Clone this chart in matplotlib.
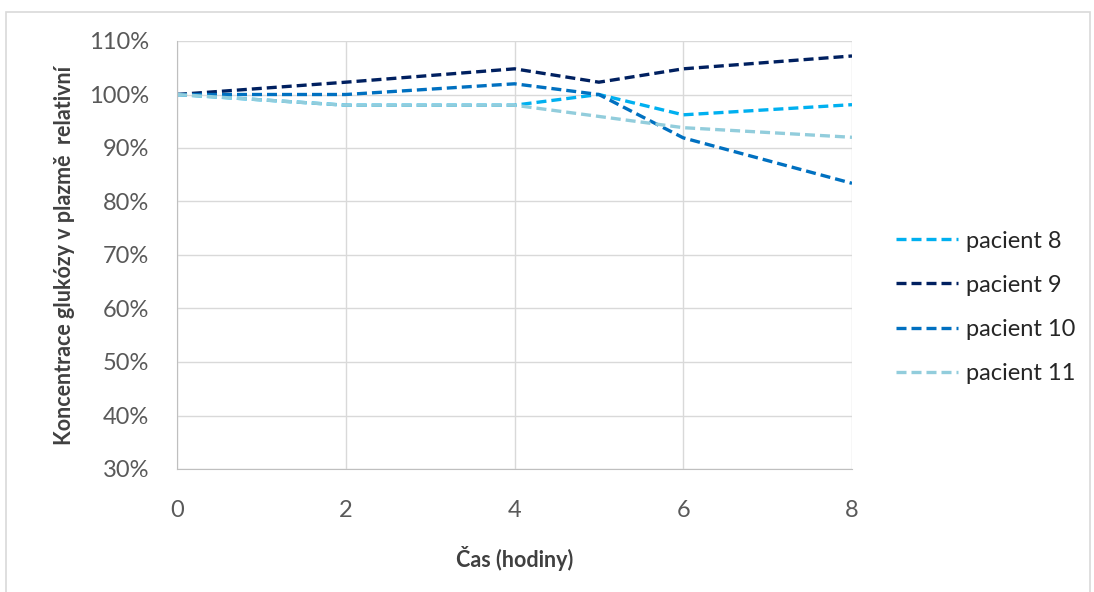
import matplotlib
matplotlib.use("Agg")
import matplotlib.pyplot as plt
from matplotlib.patches import Rectangle
from matplotlib.ticker import FuncFormatter

hours = [0, 2, 4, 5, 6, 8]
pacient_8 = [100, 98, 98, 100, 96.2, 98.1]
pacient_9 = [100, 102.3, 104.8, 102.3, 104.8, 107.2]
pacient_10 = [100, 100, 102.0, 100, 91.9, 83.4]
pacient_11 = [100, 98, 98, 95.9, 93.8, 92.0]
series = [("pacient 8", pacient_8, "#00B0F0"),
          ("pacient 9", pacient_9, "#002060"),
          ("pacient 10", pacient_10, "#0070C0"),
          ("pacient 11", pacient_11, "#92CDDC")]
x_ticks = [0, 2, 4, 6, 8]
y_ticks = [30, 40, 50, 60, 70, 80, 90, 100, 110]

plt.rcParams['font.family'] = ['Lato', 'DejaVu Sans']

fig = plt.figure(figsize=(10.94, 5.92), dpi=100)
fig.patches.append(Rectangle((6/1094, -0.01), 1084/1094, 1 - 12/592 + 0.01,
                             transform=fig.transFigure, fill=False,
                             edgecolor="#D9D9D9", linewidth=1.2))
ax = fig.add_axes([177/1094, 1 - 469/592, (852-177)/1094, (469-41)/592])

for name, vals, col in series:
    ax.plot(hours, vals, color=col, linestyle=(0, (3, 1.5)), linewidth=2.4, label=name)

ax.set_xlim(0, 8)
ax.set_ylim(30, 110)
ax.set_xticks(x_ticks)
ax.set_yticks(y_ticks)
ax.yaxis.set_major_formatter(FuncFormatter(lambda v, p: f"{int(v)}%"))
ax.grid(True, color="#D9D9D9", linewidth=1)
ax.set_axisbelow(True)
for s in ["top", "right"]:
    ax.spines[s].set_visible(False)
for s in ["left", "bottom"]:
    ax.spines[s].set_color("#BFBFBF")
ax.tick_params(axis="both", length=0, labelsize=17, labelcolor="#595959")
ax.tick_params(axis="x", pad=22)
ax.tick_params(axis="y", pad=20)
ax.set_xlabel("Čas (hodiny)", fontsize=15.5, fontweight="bold", color="#404040", labelpad=18)
ax.set_ylabel("Koncentrace glukózy v plazmě  relativní", fontsize=15.5, fontweight="bold",
              color="#404040", labelpad=10)

leg = ax.legend(loc="center left", bbox_to_anchor=((875 - 177) / 675, 0.378),
                frameon=False, fontsize=17, handlelength=2.6, labelspacing=0.98,
                handletextpad=0.35)
for t in leg.get_texts():
    t.set_color("#262626")

fig.savefig("out.png", dpi=100)
